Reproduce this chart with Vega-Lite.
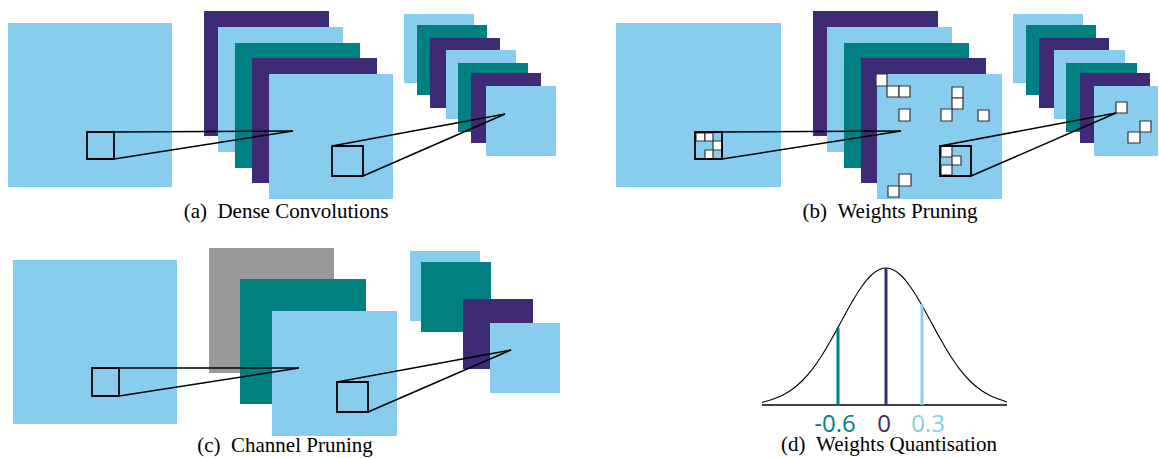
{
  "$schema": "https://vega.github.io/schema/vega-lite/v6.json",
  "width": 1159,
  "height": 458,
  "autosize": {"type": "fit", "contains": "padding"},
  "padding": 0,
  "background": "white",
  "config": {"view": {"stroke": null}},
  "datasets": {
    "rects": [
      {"x": 8, "x2": 172, "y": 23, "y2": 187, "c": "sky"},
      {"x": 204, "x2": 329, "y": 11, "y2": 136, "c": "indigo"},
      {"x": 218, "x2": 343, "y": 27, "y2": 152, "c": "sky"},
      {"x": 235, "x2": 360, "y": 43, "y2": 168, "c": "teal"},
      {"x": 252, "x2": 377, "y": 58, "y2": 183, "c": "indigo"},
      {"x": 269, "x2": 393, "y": 74, "y2": 199, "c": "sky"},
      {"x": 404, "x2": 474, "y": 14, "y2": 83, "c": "sky"},
      {"x": 417, "x2": 487, "y": 25, "y2": 95, "c": "teal"},
      {"x": 430, "x2": 500, "y": 38, "y2": 108, "c": "indigo"},
      {"x": 446, "x2": 516, "y": 50, "y2": 119, "c": "sky"},
      {"x": 458, "x2": 528, "y": 63, "y2": 132, "c": "teal"},
      {"x": 471, "x2": 541, "y": 73, "y2": 143, "c": "indigo"},
      {"x": 486, "x2": 556, "y": 86, "y2": 156, "c": "sky"},
      {"x": 616, "x2": 781, "y": 23, "y2": 187, "c": "sky"},
      {"x": 813, "x2": 938, "y": 11, "y2": 136, "c": "indigo"},
      {"x": 827, "x2": 952, "y": 27, "y2": 152, "c": "sky"},
      {"x": 844, "x2": 969, "y": 43, "y2": 168, "c": "teal"},
      {"x": 861, "x2": 986, "y": 58, "y2": 183, "c": "indigo"},
      {"x": 877, "x2": 1002, "y": 74, "y2": 199, "c": "sky"},
      {"x": 1013, "x2": 1083, "y": 14, "y2": 83, "c": "sky"},
      {"x": 1026, "x2": 1096, "y": 25, "y2": 95, "c": "teal"},
      {"x": 1039, "x2": 1109, "y": 38, "y2": 108, "c": "indigo"},
      {"x": 1054, "x2": 1125, "y": 50, "y2": 119, "c": "sky"},
      {"x": 1066, "x2": 1137, "y": 63, "y2": 132, "c": "teal"},
      {"x": 1080, "x2": 1150, "y": 73, "y2": 143, "c": "indigo"},
      {"x": 1094, "x2": 1158, "y": 86, "y2": 156, "c": "sky"},
      {"x": 13, "x2": 177, "y": 260, "y2": 424, "c": "sky"},
      {"x": 209, "x2": 334, "y": 248, "y2": 373, "c": "gray"},
      {"x": 240, "x2": 366, "y": 279, "y2": 404, "c": "teal"},
      {"x": 272, "x2": 397, "y": 311, "y2": 436, "c": "sky"},
      {"x": 410, "x2": 480, "y": 251, "y2": 321, "c": "sky"},
      {"x": 421, "x2": 491, "y": 262, "y2": 332, "c": "teal"},
      {"x": 463, "x2": 533, "y": 299, "y2": 369, "c": "indigo"},
      {"x": 490, "x2": 560, "y": 323, "y2": 393, "c": "sky"}
    ],
    "cells": [
      {"x": 876, "x2": 887, "y": 74, "y2": 86},
      {"x": 887, "x2": 899, "y": 86, "y2": 97},
      {"x": 899, "x2": 910, "y": 86, "y2": 97},
      {"x": 899, "x2": 910, "y": 109, "y2": 121},
      {"x": 952, "x2": 963, "y": 87, "y2": 98},
      {"x": 952, "x2": 963, "y": 98, "y2": 109},
      {"x": 941, "x2": 952, "y": 109, "y2": 121},
      {"x": 978, "x2": 989, "y": 110, "y2": 121},
      {"x": 941, "x2": 952, "y": 146, "y2": 157},
      {"x": 952, "x2": 961, "y": 156, "y2": 165},
      {"x": 941, "x2": 952, "y": 165, "y2": 175},
      {"x": 899, "x2": 911, "y": 174, "y2": 186},
      {"x": 888, "x2": 899, "y": 186, "y2": 197},
      {"x": 1116, "x2": 1127, "y": 102, "y2": 113},
      {"x": 1140, "x2": 1151, "y": 121, "y2": 132},
      {"x": 1128, "x2": 1140, "y": 132, "y2": 143},
      {"x": 696, "x2": 705, "y": 133, "y2": 141},
      {"x": 705, "x2": 713, "y": 133, "y2": 141},
      {"x": 713, "x2": 722, "y": 141, "y2": 150},
      {"x": 705, "x2": 713, "y": 150, "y2": 159}
    ],
    "boxes": [
      {"x": 87, "x2": 114, "y": 132, "y2": 159},
      {"x": 332, "x2": 363, "y": 146, "y2": 176},
      {"x": 695, "x2": 722, "y": 132, "y2": 159},
      {"x": 940, "x2": 971, "y": 146, "y2": 176},
      {"x": 92, "x2": 119, "y": 368, "y2": 396},
      {"x": 337, "x2": 368, "y": 382, "y2": 412}
    ],
    "segments": [
      {"x": 114, "y": 132, "x2": 293, "y2": 131},
      {"x": 114, "y": 159, "x2": 293, "y2": 131},
      {"x": 332, "y": 146, "x2": 505, "y2": 114},
      {"x": 363, "y": 176, "x2": 505, "y2": 114},
      {"x": 722, "y": 132, "x2": 901, "y2": 131},
      {"x": 722, "y": 159, "x2": 901, "y2": 131},
      {"x": 940, "y": 146, "x2": 1116, "y2": 113},
      {"x": 971, "y": 176, "x2": 1116, "y2": 113},
      {"x": 119, "y": 368, "x2": 299, "y2": 368},
      {"x": 119, "y": 396, "x2": 299, "y2": 368},
      {"x": 337, "y": 382, "x2": 511, "y2": 350},
      {"x": 368, "y": 412, "x2": 511, "y2": 350},
      {"x": 762, "y": 405, "x2": 1007, "y2": 405}
    ],
    "curve": [
      {"x": 762, "y": 402.5}, {"x": 772, "y": 399.5}, {"x": 782, "y": 395.5},
      {"x": 792, "y": 389.5}, {"x": 802, "y": 381.0}, {"x": 812, "y": 369.6},
      {"x": 822, "y": 355.2}, {"x": 832, "y": 338.3}, {"x": 842, "y": 320.1},
      {"x": 852, "y": 302.0}, {"x": 862, "y": 286.2}, {"x": 872, "y": 274.5},
      {"x": 880, "y": 269.2}, {"x": 886, "y": 268.0}, {"x": 892, "y": 269.2},
      {"x": 900, "y": 274.5}, {"x": 910, "y": 286.2}, {"x": 920, "y": 302.0},
      {"x": 930, "y": 320.1}, {"x": 940, "y": 338.3}, {"x": 950, "y": 355.2},
      {"x": 960, "y": 369.6}, {"x": 970, "y": 381.0}, {"x": 980, "y": 389.5},
      {"x": 990, "y": 395.5}, {"x": 1000, "y": 399.5}, {"x": 1007, "y": 402.0}
    ],
    "bars": [
      {"x": 838, "y": 328, "y2": 405, "c": "teal"},
      {"x": 886, "y": 268, "y2": 405, "c": "indigo"},
      {"x": 922, "y": 304, "y2": 405, "c": "sky"}
    ],
    "labels": [
      {"x": 835, "y": 432, "t": "-0.6", "c": "teal"},
      {"x": 884, "y": 432, "t": "0", "c": "indigo"},
      {"x": 928, "y": 432, "t": "0.3", "c": "sky"}
    ],
    "captions": [
      {"x": 286, "y": 218, "t": "(a)\u2002Dense Convolutions"},
      {"x": 890, "y": 218, "t": "(b)\u2002Weights Pruning"},
      {"x": 285, "y": 452, "t": "(c)\u2002Channel Pruning"},
      {"x": 889, "y": 451, "t": "(d)\u2002Weights Quantisation"}
    ]
  },
  "encoding": {
    "x": {"field": "x", "type": "quantitative", "scale": {"domain": [0, 1159], "nice": false, "zero": false}, "axis": null},
    "y": {"field": "y", "type": "quantitative", "scale": {"domain": [0, 458], "nice": false, "zero": false, "reverse": true}, "axis": null}
  },
  "layer": [
    {
      "data": {"name": "rects"},
      "mark": {"type": "rect"},
      "encoding": {
        "x2": {"field": "x2"},
        "y2": {"field": "y2"},
        "color": {"field": "c", "type": "nominal", "scale": {"domain": ["sky", "teal", "indigo", "gray"], "range": ["#88CCEE", "#008080", "#3F2A76", "#999999"]}, "legend": null}
      }
    },
    {
      "data": {"name": "cells"},
      "mark": {"type": "rect", "fill": "white", "stroke": "#333333", "strokeWidth": 1.2},
      "encoding": {"x2": {"field": "x2"}, "y2": {"field": "y2"}}
    },
    {
      "data": {"name": "boxes"},
      "mark": {"type": "rect", "filled": false, "stroke": "black", "strokeWidth": 1.8},
      "encoding": {"x2": {"field": "x2"}, "y2": {"field": "y2"}}
    },
    {
      "data": {"name": "segments"},
      "mark": {"type": "rule", "color": "black", "strokeWidth": 1.5},
      "encoding": {"x2": {"field": "x2"}, "y2": {"field": "y2"}}
    },
    {
      "data": {"name": "curve"},
      "mark": {"type": "line", "color": "black", "strokeWidth": 1.1, "interpolate": "monotone"},
      "encoding": {}
    },
    {
      "data": {"name": "bars"},
      "mark": {"type": "rule", "strokeWidth": 3},
      "encoding": {
        "y2": {"field": "y2"},
        "color": {"field": "c", "type": "nominal", "legend": null}
      }
    },
    {
      "data": {"name": "labels"},
      "mark": {"type": "text", "font": "Open Sans", "fontSize": 24, "align": "center", "baseline": "alphabetic"},
      "encoding": {
        "text": {"field": "t"},
        "color": {"field": "c", "type": "nominal", "legend": null}
      }
    },
    {
      "data": {"name": "captions"},
      "mark": {"type": "text", "font": "Liberation Serif", "fontSize": 21, "align": "center", "baseline": "alphabetic", "color": "black"},
      "encoding": {"text": {"field": "t"}}
    }
  ]
}
